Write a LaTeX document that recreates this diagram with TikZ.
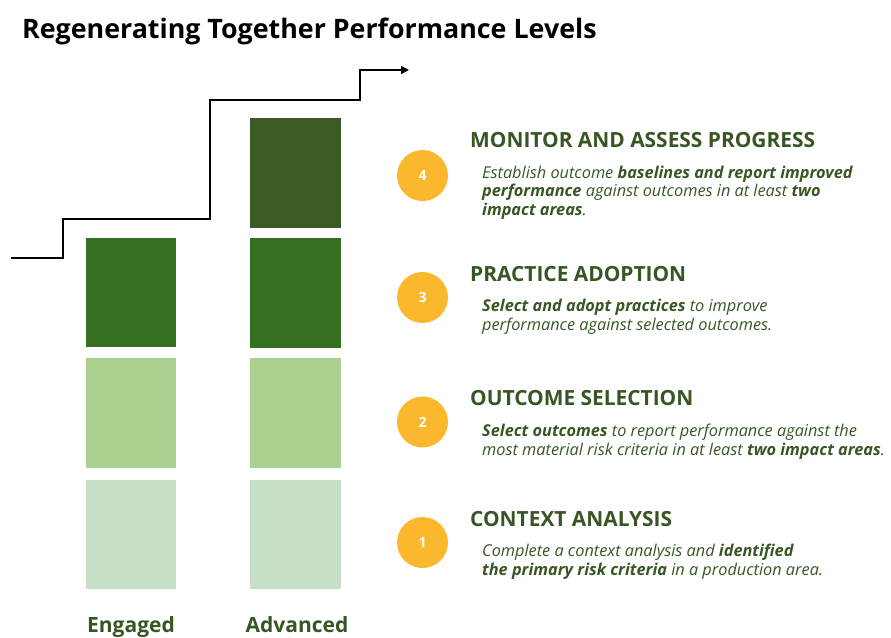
\documentclass[tikz,border=0pt]{standalone}
\usepackage{fontspec}
\setmainfont{Open Sans}
\usetikzlibrary{arrows.meta}
\definecolor{topgreen}{HTML}{3B5A24}
\definecolor{midgreen}{HTML}{357020}
\definecolor{lightgreen}{HTML}{A9D08E}
\definecolor{palegreen}{HTML}{C6DFC6}
\definecolor{textgreen}{HTML}{375623}
\definecolor{badge}{HTML}{FBB82F}
\tikzset{
  block/.style={fill=#1, draw=none},
  badgecircle/.style={circle, fill=badge, minimum size=51pt, inner sep=0pt,
    text=white, font=\fontsize{14}{14}\selectfont\bfseries},
  heading/.style={anchor=base west, inner sep=0pt, text=textgreen,
    font=\fontsize{20.9}{21}\selectfont\bfseries},
  % multi-line body: the base anchor sits on the last line
  body/.style={anchor=base west, inner sep=0pt, text=textgreen, align=left,
    font=\fontsize{16.3}{18.6}\selectfont\itshape},
  level/.style={anchor=base, inner sep=0pt, text=textgreen,
    font=\fontsize{21}{21}\selectfont\bfseries},
  stairs/.style={line width=1.4pt, -{Triangle[length=8pt,width=8pt]}}
}
\begin{document}
\begin{tikzpicture}[x=1pt,y=-1pt]
\useasboundingbox (0,0) rectangle (891,637);

% title
\node[anchor=base west, inner sep=0pt, font=\fontsize{26.8}{27}\selectfont\bfseries]
  (title) at (22,38) {Regenerating Together Performance Levels};

% staircase arrow
\coordinate (s0) at (11,258);
\coordinate (s1) at (63,258);
\coordinate (s2) at (63,219);
\coordinate (s3) at (210,219);
\coordinate (s4) at (210,100);
\coordinate (s5) at (360,100);
\coordinate (s6) at (360,70);
\coordinate (s7) at (409,70);
\draw[stairs] (s0) -- (s1) -- (s2) -- (s3) -- (s4) -- (s5) -- (s6) -- (s7);

% Engaged column
\path[block=midgreen]   (86,238) rectangle (176,347);
\path[block=lightgreen] (86,358) rectangle (176,468);
\path[block=palegreen]  (86,480) rectangle (176,589);
% Advanced column
\path[block=topgreen]   (250,118) rectangle (341,228);
\path[block=midgreen]   (250,238) rectangle (341,348);
\path[block=lightgreen] (250,358) rectangle (341,468);
\path[block=palegreen]  (250,480) rectangle (341,589);

\node[level] (engaged)  at (131,632) {Engaged};
\node[level] (advanced) at (297,632) {Advanced};

% level 4
\node[badgecircle] (b4) at (422.5,175.5) {4};
\node[heading] (h4) at (470,147) {MONITOR AND ASSESS PROGRESS};
\node[body] (t4) at (482,215.5) {Establish outcome \textbf{baselines and report improved}\\
  \textbf{performance} against outcomes in at least \textbf{two}\\
  \textbf{impact areas}.};

% level 3
\node[badgecircle] (b3) at (422.5,297.5) {3};
\node[heading] (h3) at (470,281) {PRACTICE ADOPTION};
\node[body] (t3) at (482,330) {\textbf{Select and adopt practices} to improve\\
  performance against selected outcomes.};

% level 2
\node[badgecircle] (b2) at (422.5,422) {2};
\node[heading] (h2) at (470,405.5) {OUTCOME SELECTION};
\node[body] (t2) at (482,455) {\textbf{Select outcomes} to report performance against the\\
  most material risk criteria in at least \textbf{two impact areas}.};

% level 1
\node[badgecircle] (b1) at (422.5,542.5) {1};
\node[heading] (h1) at (470,526.5) {CONTEXT ANALYSIS};
\node[body] (t1) at (482,575.5) {Complete a context analysis and \textbf{identified}\\
  \textbf{the primary risk criteria} in a production area.};
\end{tikzpicture}
\end{document}
